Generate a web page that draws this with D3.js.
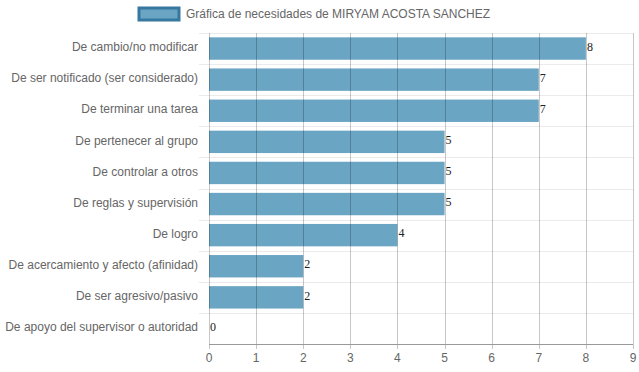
<!DOCTYPE html>
<html>
<head>
<meta charset="utf-8">
<script src="https://cdn.jsdelivr.net/npm/d3@7"></script>
<style>
  body { margin: 0; background: #fff; }
  text { font-family: "Liberation Sans", Arial, sans-serif; }
</style>
</head>
<body>
<div id="chart"></div>
<script>
// data
const categories = [
  "De cambio/no modificar",
  "De ser notificado (ser considerado)",
  "De terminar una tarea",
  "De pertenecer al grupo",
  "De controlar a otros",
  "De reglas y supervisión",
  "De logro",
  "De acercamiento y afecto (afinidad)",
  "De ser agresivo/pasivo",
  "De apoyo del supervisor o autoridad"
];
const values = [8, 7, 7, 5, 5, 5, 4, 2, 2, 0];
const xTicks = [0, 1, 2, 3, 4, 5, 6, 7, 8, 9];
const seriesName = "Gráfica de necesidades de MIRYAM ACOSTA SANCHEZ";

const width = 639, height = 372;
const margin = ({top: 33, right: 6, bottom: 28, left: 209});
const innerW = width - margin.left - margin.right;
const innerH = height - margin.top - margin.bottom;

const svg = d3.select("#chart").append("svg")
    .attr("width", width)
    .attr("height", height);

const g = svg.append("g")
    .attr("transform", `translate(${margin.left},${margin.top})`);

const x = d3.scaleLinear().domain([0, 9]).range([0, innerW]);
const y = d3.scaleBand().domain(categories).range([0, innerH]).paddingInner(0).paddingOuter(0);

// horizontal grid (band boundaries)
const bounds = categories.map(c => y(c));
g.selectAll(".hgrid").data(bounds).enter().append("line")
    .attr("x1", -10).attr("x2", innerW)
    .attr("y1", d => Math.round(d) + 0.5).attr("y2", d => Math.round(d) + 0.5)
    .attr("stroke", "#ebebeb").attr("stroke-width", 1);

// bars
const bh = y.bandwidth() * 0.72;
g.selectAll(".bar").data(values).enter().append("rect")
    .attr("x", 0)
    .attr("y", (d, i) => y(categories[i]) + (y.bandwidth() - bh) / 2)
    .attr("width", d => x(d))
    .attr("height", bh)
    .attr("fill", "rgb(107,165,196)");

// vertical grid on top
g.selectAll(".vgrid").data(xTicks).enter().append("line")
    .attr("x1", d => Math.round(x(d)) + 0.5).attr("x2", d => Math.round(x(d)) + 0.5)
    .attr("y1", 0).attr("y2", innerH + 5)
    .attr("stroke", "rgba(0,0,0,0.22)").attr("stroke-width", 1);

// x axis line
g.append("line")
    .attr("x1", 0).attr("x2", innerW)
    .attr("y1", innerH + 0.5).attr("y2", innerH + 0.5)
    .attr("stroke", "#999");

// x tick labels
g.selectAll(".xt").data(xTicks).enter().append("text")
    .attr("x", d => x(d))
    .attr("y", innerH + 18)
    .attr("text-anchor", "middle")
    .attr("font-size", 12)
    .attr("fill", "#666")
    .text(d => d);

// y labels
g.selectAll(".yl").data(categories).enter().append("text")
    .attr("x", -11)
    .attr("y", d => y(d) + y.bandwidth() / 2 - 1.5)
    .attr("dy", "0.35em")
    .attr("text-anchor", "end")
    .attr("font-size", 12)
    .attr("fill", "#666")
    .text(d => d);

// value labels
g.selectAll(".vl").data(values).enter().append("text")
    .attr("x", d => x(d) + 1)
    .attr("y", (d, i) => y(categories[i]) + y.bandwidth() / 2 - 2)
    .attr("dy", "0.35em")
    .attr("font-size", 12)
    .attr("fill", "#222")
    .style("font-family", "'Liberation Serif', 'Times New Roman', serif")
    .text(d => d);

// legend
const legend = svg.append("g").attr("transform", "translate(139,8)");
legend.append("rect")
    .attr("x", 0).attr("y", 0).attr("width", 40).attr("height", 12)
    .attr("fill", "rgb(107,165,196)")
    .attr("stroke", "rgb(54,120,160)")
    .attr("stroke-width", 3);
legend.append("text")
    .attr("x", 47).attr("y", 6)
    .attr("dy", "0.35em")
    .attr("font-size", 12)
    .attr("fill", "#666")
    .text(seriesName);
</script>
</body>
</html>
